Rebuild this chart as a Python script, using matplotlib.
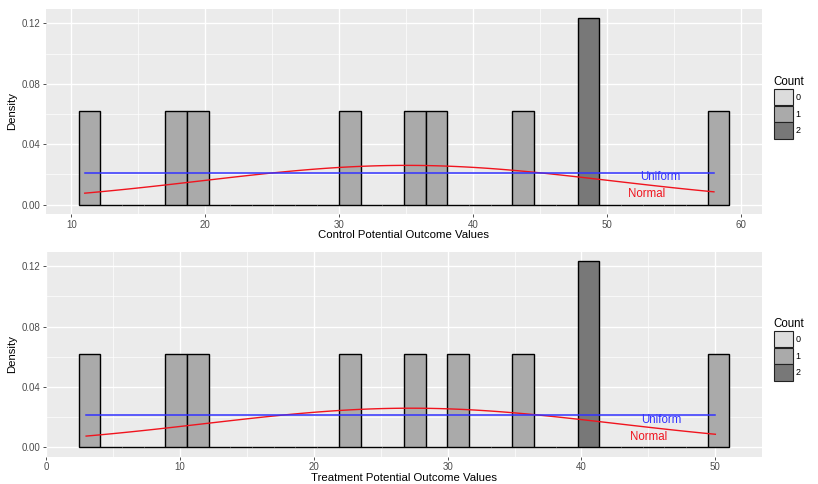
import numpy as np
import matplotlib
matplotlib.use("Agg")
import matplotlib.pyplot as plt
from matplotlib.patches import Patch
from matplotlib.ticker import MultipleLocator

plt.rcParams['font.family'] = ['Liberation Sans', 'DejaVu Sans']

# potential outcome values
control = [11, 17.5, 19.5, 31, 35.5, 37, 44, 48.5, 48.5, 58]
treatment = [3, 9.5, 11.5, 23, 27.5, 31, 36, 40.5, 40.5, 50]
xlabels = ["Control Potential Outcome Values", "Treatment Potential Outcome Values"]
count_levels = [0, 1, 2]
count_colors = ["#dcdcdc", "#aaaaaa", "#787878"]


def gg_breaks(x, bins=30):
    # same bin edges as ggplot2 geom_histogram(bins = 30)
    lo, hi = min(x), max(x)
    w = (hi - lo) / (bins - 1)
    b = w / 2
    origin = b + np.floor((lo - b) / w) * w
    n = int(np.floor((hi + w * (1 - 1e-8) - origin) / w))
    return origin + np.arange(n + 1) * w


def panel(ax, x, xlab, legend_y):
    x = np.array(x, dtype=float)
    edges = gg_breaks(x)
    counts, _ = np.histogram(x, bins=edges)
    w = edges[1] - edges[0]
    dens = counts / (len(x) * w)
    cols = [count_colors[c] for c in counts]
    ax.bar(edges[:-1], dens, width=w, align='edge', color=cols,
           edgecolor='black', linewidth=1.0, zorder=3)

    lo, hi = x.min(), x.max()
    xs = np.linspace(lo, hi, 101)
    m, s = x.mean(), x.std(ddof=1)
    ax.plot(xs, np.exp(-0.5 * ((xs - m) / s) ** 2) / (s * np.sqrt(2 * np.pi)),
            color='#f0141e', lw=1.0, zorder=4)
    ax.plot([lo, hi], [1 / (hi - lo)] * 2, color='#3333ff', lw=1.1, zorder=4)
    ax.text(hi - 4, 0.018, "Uniform", color='#3333ff', fontsize=8.3,
            ha='center', va='center', zorder=5)
    ax.text(hi - 5, 0.0072, "Normal", color='#f0141e', fontsize=8.3,
            ha='center', va='center', zorder=5)

    span = edges[-1] - edges[0]
    ax.set_xlim(edges[0] - 0.05 * span, edges[-1] + 0.05 * span)
    top = dens.max()
    ax.set_ylim(-0.05 * top, top * 1.05)

    ax.set_facecolor('#ebebeb')
    ax.xaxis.set_major_locator(MultipleLocator(10))
    ax.xaxis.set_minor_locator(MultipleLocator(5))
    ax.yaxis.set_major_locator(MultipleLocator(0.04))
    ax.yaxis.set_minor_locator(MultipleLocator(0.02))
    ax.yaxis.set_major_formatter(lambda v, p: f"{v:.2f}")
    ax.grid(which='major', color='white', lw=1.0, zorder=0)
    ax.grid(which='minor', color='white', lw=0.5, zorder=0)
    ax.set_axisbelow(True)
    for sp in ax.spines.values():
        sp.set_visible(False)
    ax.tick_params(which='major', length=2.5, width=0.6, color='#333333',
                   labelsize=7, labelcolor='#4d4d4d', pad=1.5)
    ax.tick_params(which='minor', length=0)
    ax.set_xlabel(xlab, fontsize=8.2, labelpad=0.5)
    ax.set_ylabel("Density", fontsize=8.2, labelpad=3)

    handles = [Patch(facecolor=c, edgecolor='#222222', linewidth=0.8)
               for c in count_colors]
    leg = ax.figure.legend(handles, [str(v) for v in count_levels], title="Count",
                           loc='upper left', bbox_to_anchor=(0.946, legend_y),
                           frameon=False, fontsize=6.5, title_fontsize=8.3,
                           handlelength=2.1, handleheight=2.4, labelspacing=0.05,
                           handletextpad=0.3, borderaxespad=0, borderpad=0)
    leg._legend_box.align = 'left'


fig = plt.figure(figsize=(8.18, 4.84), dpi=100)
ax1 = fig.add_axes([0.0562, 0.5579, 0.8753, 0.4235])
ax2 = fig.add_axes([0.0562, 0.0564, 0.8753, 0.4236])
panel(ax1, control, xlabels[0], 0.842)
panel(ax2, treatment, xlabels[1], 0.342)

fig.savefig("out.png", dpi=100)
